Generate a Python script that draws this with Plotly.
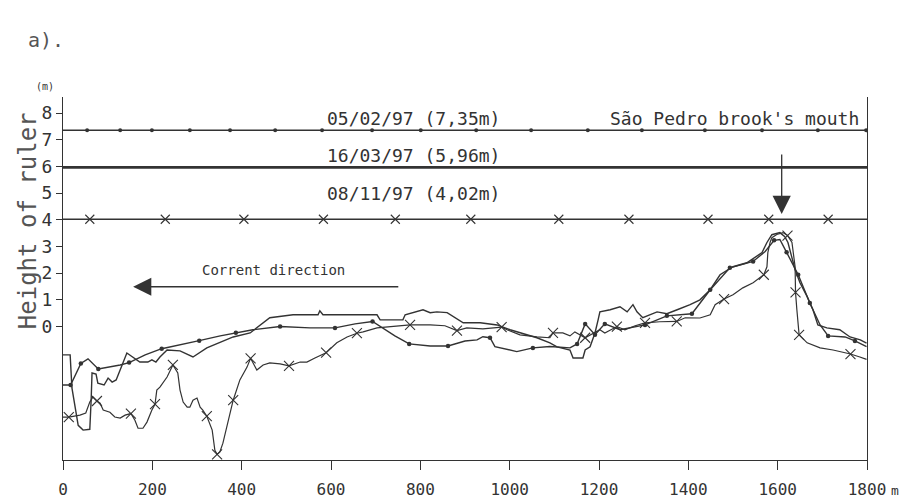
import plotly.graph_objects as go

# ---------------- data ----------------
# level lines (m) and the dates they belong to
levels = [7.35, 5.96, 4.02]
level_labels = ["05/02/97 (7,35m)", "16/03/97 (5,96m)", "08/11/97 (4,02m)"]
lev05_dots = [54, 128, 199, 284, 374, 475, 580, 692, 801, 925, 1048, 1175, 1296, 1437, 1565, 1690, 1798]
lev08_x = [60, 229, 405, 583, 744, 913, 1110, 1267, 1444, 1580, 1713]

# profile 05/02/97 (dots)
dist05 = [0, 17, 40, 56, 79, 128, 148, 184, 221, 262, 305, 352, 387, 425, 486, 553, 609, 654, 693, 716,
          743, 775, 822, 862, 900, 927, 940, 956, 967, 1016, 1052, 1090, 1135, 1151, 1169, 1191, 1213, 1247,
          1303, 1352, 1408, 1449, 1493, 1545, 1572, 1592, 1605, 1620, 1646, 1672, 1695, 1713, 1751, 1773, 1799]
h05 = [-2.19, -2.19, -1.38, -1.21, -1.59, -1.44, -1.35, -1.06, -0.83, -0.69, -0.53, -0.35, -0.23, -0.12, 0.0,
       -0.05, -0.05, 0.10, 0.19, -0.05, -0.35, -0.65, -0.73, -0.73, -0.54, -0.50, -0.38, -0.42, -0.75, -0.94,
       -0.80, -0.75, -0.80, -0.65, 0.10, -0.31, 0.10, -0.12, 0.06, 0.40, 0.48, 1.38, 2.20, 2.44, 2.81, 3.23,
       3.26, 2.78, 1.94, 0.88, 0.06, -0.35, -0.39, -0.54, -0.75]
dots05 = [17, 40, 79, 148, 221, 305, 387, 486, 609, 693, 775, 862, 956, 1052, 1151, 1169, 1191, 1213, 1303,
          1352, 1408, 1449, 1493, 1545, 1592, 1620, 1646, 1672, 1713, 1773]

# profile 16/03/97 (plain)
dist16 = [0, 16, 20, 34, 45, 60, 63, 65, 74, 78, 92, 101, 110, 119, 143, 157, 172, 190, 199, 208, 217, 233,
          262, 291, 307, 322, 381, 419, 463, 515, 571, 575, 582, 642, 703, 710, 761, 766, 793, 806, 822, 837,
          860, 878, 896, 934, 972, 1001, 1023, 1061, 1090, 1106, 1135, 1142, 1164, 1169, 1180, 1191, 1198,
          1202, 1225, 1247, 1263, 1276, 1285, 1298, 1330, 1352, 1375, 1404, 1426, 1449, 1471, 1500, 1531,
          1549, 1565, 1576, 1583, 1587, 1605, 1616, 1623, 1632, 1639, 1650, 1666, 1679, 1690, 1710, 1739,
          1762, 1785, 1799]
h16 = [-1.06, -1.06, -2.30, -3.70, -3.88, -3.85, -2.76, -1.74, -1.78, -2.12, -2.19, -1.93, -2.08, -2.00,
       -0.99, -1.14, -1.33, -1.33, -1.25, -1.33, -1.14, -0.88, -0.91, -1.14, -0.95, -0.80, -0.39, -0.24, 0.33,
       0.44, 0.44, 0.59, 0.44, 0.44, 0.44, 0.25, 0.25, 0.44, 0.55, 0.63, 0.52, 0.55, 0.52, 0.33, 0.14, 0.14,
       0.06, -0.12, -0.24, -0.42, -0.61, -0.76, -0.88, -1.18, -1.18, -0.88, -0.76, -0.24, 0.25, 0.55, 0.63,
       0.74, 0.55, 0.82, 0.55, 0.33, 0.55, 0.48, 0.63, 0.82, 1.00, 1.38, 1.94, 2.24, 2.39, 2.58, 2.77, 3.15,
       3.37, 3.44, 3.52, 3.37, 3.15, 2.51, 2.13, 1.64, 1.12, 0.63, 0.06, -0.05, -0.12, -0.39, -0.50, -0.62]

# profile 08/11/97 (crosses)
dist08 = [0, 13, 38, 51, 60, 67, 76, 83, 90, 105, 116, 128, 139, 152, 161, 168, 179, 188, 199, 206, 210, 217,
          233, 246, 257, 262, 269, 278, 284, 291, 300, 307, 313, 322, 334, 340, 345, 351, 358, 369, 381, 396,
          412, 420, 434, 448, 463, 486, 506, 531, 546, 564, 589, 613, 636, 658, 672, 703, 732, 777, 822, 855,
          882, 904, 940, 982, 994, 1023, 1061, 1090, 1097, 1119, 1135, 1146, 1169, 1180, 1202, 1213, 1240,
          1258, 1281, 1303, 1336, 1374, 1393, 1426, 1449, 1460, 1480, 1500, 1522, 1545, 1565, 1569, 1576,
          1578, 1583, 1587, 1598, 1612, 1622, 1632, 1639, 1640, 1643, 1648, 1666, 1695, 1724, 1746, 1763,
          1784, 1799]
h08 = [-3.39, -3.39, -3.32, -3.24, -2.83, -2.64, -2.79, -2.87, -3.13, -3.21, -3.39, -3.43, -3.32, -3.26,
       -3.51, -3.81, -3.81, -3.58, -3.13, -2.91, -2.38, -2.27, -1.89, -1.44, -1.74, -2.38, -2.83, -3.02, -3.02,
       -2.76, -2.68, -3.02, -3.13, -3.36, -3.88, -4.64, -4.79, -4.71, -4.37, -3.62, -2.76, -2.00, -1.52, -1.19,
       -1.63, -1.44, -1.36, -1.40, -1.47, -1.33, -1.33, -1.18, -0.98, -0.61, -0.39, -0.25, -0.20, -0.05, -0.01,
       0.06, 0.06, 0.03, -0.15, -0.05, -0.09, -0.02, -0.12, -0.31, -0.39, -0.42, -0.24, -0.24, -0.35, -0.20,
       -0.42, -0.31, -0.12, -0.24, 0.0, -0.12, 0.03, 0.14, 0.18, 0.19, 0.33, 0.32, 0.44, 0.82, 1.03, 1.19,
       1.45, 1.64, 1.87, 1.94, 2.24, 2.77, 3.15, 3.33, 3.45, 3.52, 3.41, 3.15, 2.24, 1.28, 0.63, -0.31, -0.61,
       -0.80, -0.88, -0.95, -1.03, -1.14, -1.23]
x08 = [13, 76, 152, 206, 246, 322, 345, 381, 420, 506, 589, 658, 777, 882, 982, 1097, 1169, 1240, 1303,
       1374, 1480, 1569, 1622, 1640, 1648, 1763]

x_ticks = [0, 200, 400, 600, 800, 1000, 1200, 1400, 1600, 1800]
x_ticktext = ["0", "200", "400", "600", "800", "1000", "1200", "1400", "1600", "1800"]
y_ticks = [0, 1, 2, 3, 4, 5, 6, 7, 8]

assert len(dist05) == len(h05) and len(dist16) == len(h16) and len(dist08) == len(h08)

INK = "#333333"
MONO = "DejaVu Sans Mono, Liberation Mono, monospace"

fig = go.Figure()

# level lines
fig.add_trace(go.Scatter(x=[0, 1800], y=[levels[0]] * 2, mode="lines", line=dict(color=INK, width=1.5)))
fig.add_trace(go.Scatter(x=lev05_dots, y=[levels[0]] * len(lev05_dots), mode="markers",
                         marker=dict(symbol="circle", size=4, color=INK)))
fig.add_trace(go.Scatter(x=[0, 1800], y=[levels[1]] * 2, mode="lines", line=dict(color=INK, width=2.8)))
fig.add_trace(go.Scatter(x=[0, 1800], y=[levels[2]] * 2, mode="lines", line=dict(color=INK, width=1.5)))
fig.add_trace(go.Scatter(x=lev08_x, y=[levels[2]] * len(lev08_x), mode="markers",
                         marker=dict(symbol="x-thin", size=9, line=dict(color=INK, width=1.1))))

# profiles
fig.add_trace(go.Scatter(x=dist05, y=h05, mode="lines", line=dict(color=INK, width=1.4)))
fig.add_trace(go.Scatter(x=dots05, y=[h05[dist05.index(d)] for d in dots05], mode="markers",
                         marker=dict(symbol="circle", size=4.5, color=INK)))
fig.add_trace(go.Scatter(x=dist16, y=h16, mode="lines", line=dict(color=INK, width=1.4)))
fig.add_trace(go.Scatter(x=dist08, y=h08, mode="lines", line=dict(color=INK, width=1.2)))
fig.add_trace(go.Scatter(x=x08, y=[h08[dist08.index(d)] for d in x08], mode="markers",
                         marker=dict(symbol="x-thin", size=10, line=dict(color=INK, width=1.1))))

ann = []
tf = dict(family=MONO, size=18, color=INK)
ann.append(dict(x=587, y=7.79, xref="x", yref="y", text=level_labels[0], showarrow=False,
                xanchor="left", yanchor="middle", font=tf))
ann.append(dict(x=1786, y=7.79, xref="x", yref="y", text="São Pedro brook's mouth", showarrow=False,
                xanchor="right", yanchor="middle", font=tf))
ann.append(dict(x=587, y=6.40, xref="x", yref="y", text=level_labels[1], showarrow=False,
                xanchor="left", yanchor="middle", font=tf))
ann.append(dict(x=587, y=4.98, xref="x", yref="y", text=level_labels[2], showarrow=False,
                xanchor="left", yanchor="middle", font=tf))
ann.append(dict(x=307, y=2.10, xref="x", yref="y", text="Corrent direction", showarrow=False,
                xanchor="left", yanchor="middle", font=dict(family=MONO, size=14, color=INK)))
# arrows
ann.append(dict(x=1609, y=4.22, ax=1609, ay=6.50, xref="x", yref="y", axref="x", ayref="y", text="",
                showarrow=True, arrowhead=2, arrowsize=2.8, arrowwidth=1.3, arrowcolor=INK))
ann.append(dict(x=157, y=1.49, ax=754, ay=1.49, xref="x", yref="y", axref="x", ayref="y", text="",
                showarrow=True, arrowhead=2, arrowsize=2.8, arrowwidth=1.3, arrowcolor=INK))
# axis texts
ann.append(dict(x=-0.0435, y=0.658, xref="paper", yref="paper", text="Height of ruler", textangle=-90,
                xanchor="center", yanchor="middle", showarrow=False,
                font=dict(family=MONO, size=24, color="#555555")))
ann.append(dict(x=-0.023, y=1.03, xref="paper", yref="paper", text="(m)", showarrow=False,
                xanchor="center", yanchor="middle", font=dict(family=MONO, size=10, color=INK)))
ann.append(dict(x=-0.021, y=1.157, xref="paper", yref="paper", text="a).", showarrow=False,
                xanchor="center", yanchor="middle", font=dict(family=MONO, size=20, color="#555555")))
ann.append(dict(x=1.027, y=-0.085, xref="paper", yref="paper", text="m", showarrow=False,
                xanchor="left", yanchor="middle", font=dict(family=MONO, size=13, color=INK)))

fig.update_layout(
    width=908, height=503, showlegend=False,
    # the page body adds an 8 px offset; margins compensate so the plot area sits at 63..867 x 97..460
    margin=dict(l=55, r=49, t=89, b=51),
    paper_bgcolor="white", plot_bgcolor="white",
    annotations=ann,
    xaxis=dict(range=[0, 1800], tickvals=x_ticks, ticktext=x_ticktext, ticks="outside", ticklen=9,
               tickcolor=INK, showline=True, linecolor=INK, linewidth=1.3, showgrid=False, zeroline=False,
               ticklabelstandoff=6, tickfont=dict(family=MONO, size=16, color=INK)),
    yaxis=dict(range=[-5.0, 8.6], tickvals=y_ticks, ticks="outside", ticklen=6, tickcolor=INK,
               showline=True, linecolor=INK, linewidth=1.3, mirror=True, showgrid=False, zeroline=False,
               tickfont=dict(family=MONO, size=18, color=INK)),
)

fig.write_html("out.html")
